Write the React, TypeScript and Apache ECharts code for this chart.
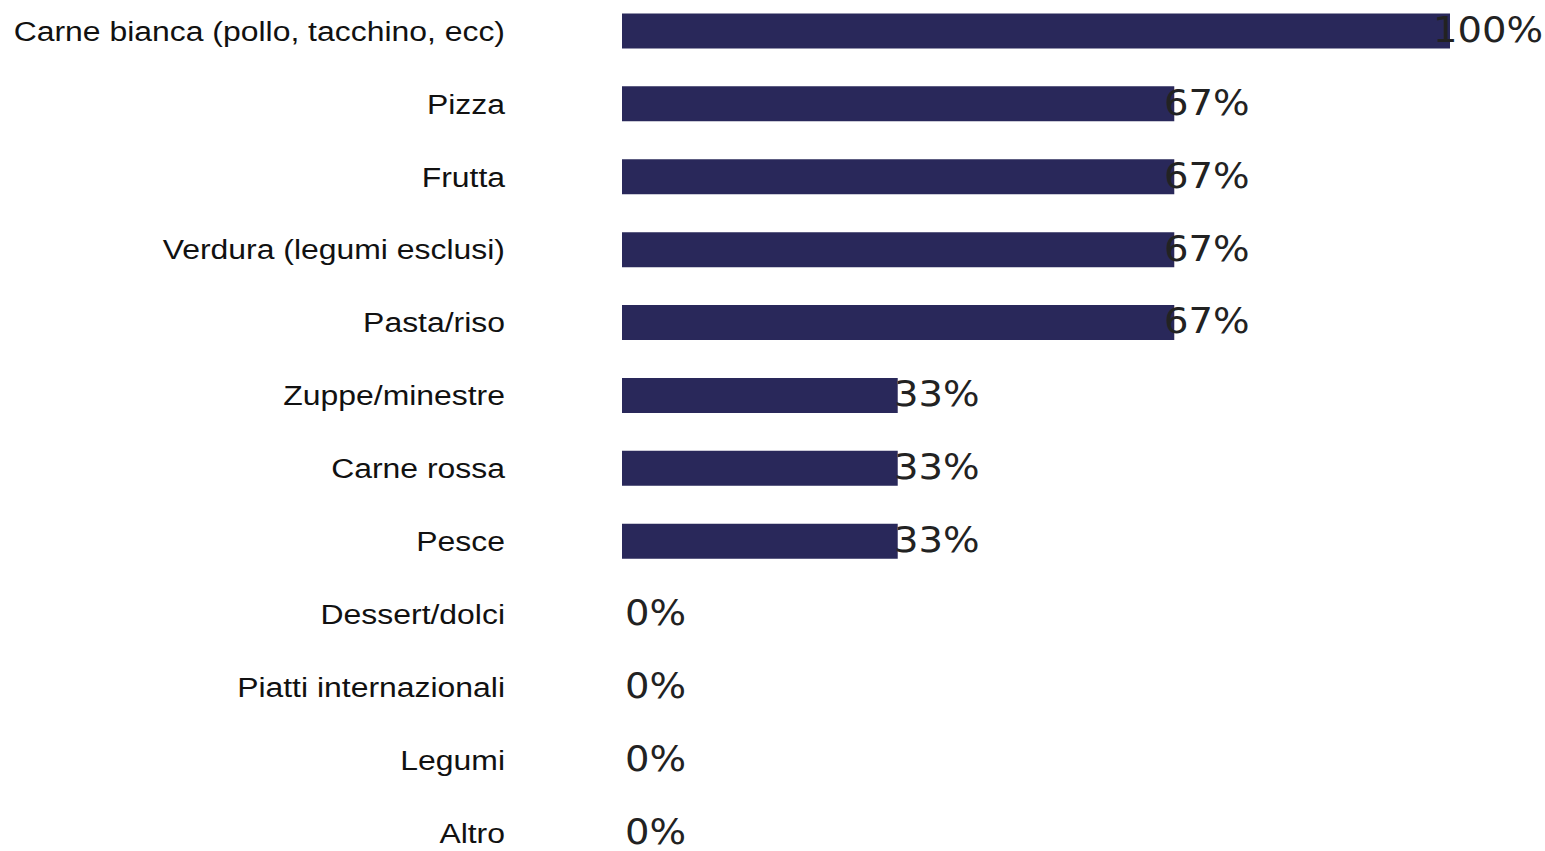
import React, { useEffect, useRef } from "react";
import * as echarts from "echarts";

const categories = [
  "Carne bianca (pollo, tacchino, ecc)",
  "Pizza",
  "Frutta",
  "Verdura (legumi esclusi)",
  "Pasta/riso",
  "Zuppe/minestre",
  "Carne rossa",
  "Pesce",
  "Dessert/dolci",
  "Piatti internazionali",
  "Legumi",
  "Altro",
];
const values = [100, 66.7, 66.7, 66.7, 66.7, 33.3, 33.3, 33.3, 0, 0, 0, 0];

const CAT_FONT = "28px 'Liberation Sans', Arial, sans-serif";
const VAL_FONT = "35px 'DejaVu Sans', sans-serif";

export default function App() {
  const ref = useRef<HTMLDivElement>(null);
  useEffect(() => {
    if (!ref.current) return;
    const chart = echarts.init(ref.current, null, { renderer: "svg" });
    chart.setOption({
      animation: false,
      backgroundColor: "#ffffff",
      grid: { left: 622, top: 24.5, width: 828, height: 874.8, containLabel: false },
      xAxis: { type: "value", min: 0, max: 100, show: false },
      yAxis: {
        type: "category",
        data: categories,
        inverse: true,
        axisLine: { show: false },
        axisTick: { show: false },
        splitLine: { show: false },
        axisLabel: { show: false },
      },
      series: [
        {
          type: "bar",
          barWidth: 35,
          itemStyle: { color: "#29285a" },
          data: values,
        },
        {
          type: "custom",
          data: values.map((v, i) => [v, i]),
          encode: { x: 0, y: 1 },
          z: 5,
          renderItem: (params: any, api: any) => {
            const v = api.value(0);
            const i = api.value(1);
            const end = api.coord([v, i]);
            const start = api.coord([0, i]);
            return {
              type: "group",
              children: [
                {
                  type: "text",
                  x: start[0] - 117,
                  y: start[1],
                  scaleX: 1.14,
                  style: {
                    text: categories[i],
                    font: CAT_FONT,
                    fill: "#111111",
                    align: "right",
                    verticalAlign: "middle",
                    textAlign: "right",
                    textVerticalAlign: "middle",
                  },
                },
                {
                  type: "text",
                  x: end[0] + 3 - v * 0.2,
                  y: end[1] - 1,
                  scaleX: 1.1,
                  style: {
                    text: `${Math.round(v)}%`,
                    font: VAL_FONT,
                    fill: "#222222",
                    align: "left",
                    verticalAlign: "middle",
                    textAlign: "left",
                    textVerticalAlign: "middle",
                  },
                },
              ],
            };
          },
        },
      ],
    });
    return () => chart.dispose();
  }, []);
  return (
    <div
      ref={ref}
      style={{ position: "fixed", left: 0, top: -30, width: 1545, height: 911 }}
    />
  );
}
